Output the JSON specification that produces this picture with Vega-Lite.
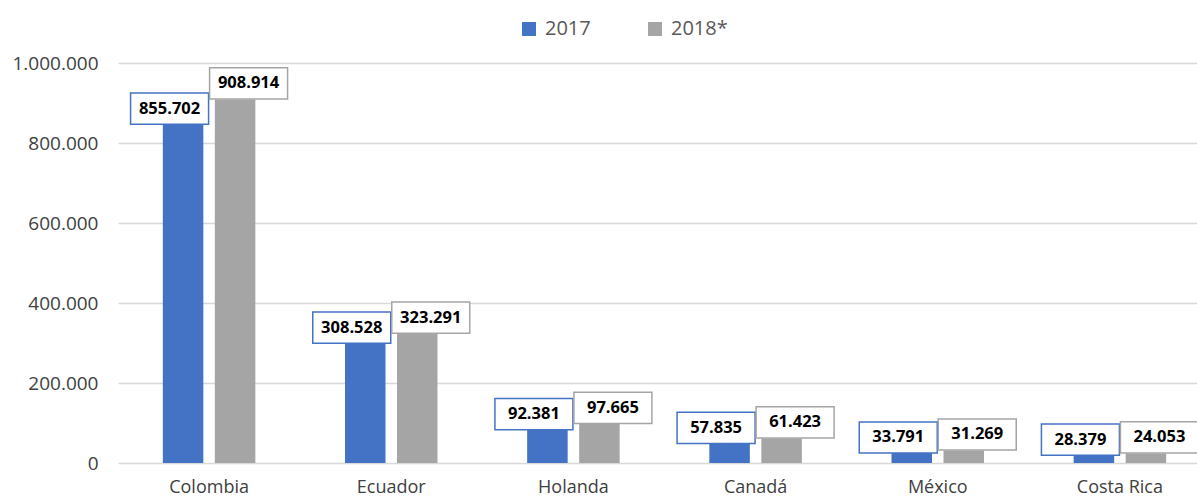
{
  "$schema": "https://vega.github.io/schema/vega-lite/v6.json",
  "width": 1079,
  "height": 400,
  "autosize": {"type": "none"},
  "padding": {"left": 118, "top": 63, "right": 0, "bottom": 36},
  "background": "white",
  "config": {
    "view": {"stroke": null},
    "locale": {"number": {"decimal": ",", "thousands": ".", "grouping": [3], "currency": ["$", ""]}},
    "font": "Open Sans"
  },
  "data": {
    "values": [
      {"pais": "Colombia", "anio": "2017", "valor": 855702},
      {"pais": "Colombia", "anio": "2018*", "valor": 908914},
      {"pais": "Ecuador", "anio": "2017", "valor": 308528},
      {"pais": "Ecuador", "anio": "2018*", "valor": 323291},
      {"pais": "Holanda", "anio": "2017", "valor": 92381},
      {"pais": "Holanda", "anio": "2018*", "valor": 97665},
      {"pais": "Canadá", "anio": "2017", "valor": 57835},
      {"pais": "Canadá", "anio": "2018*", "valor": 61423},
      {"pais": "México", "anio": "2017", "valor": 33791},
      {"pais": "México", "anio": "2018*", "valor": 31269},
      {"pais": "Costa Rica", "anio": "2017", "valor": 28379},
      {"pais": "Costa Rica", "anio": "2018*", "valor": 24053}
    ]
  },
  "encoding": {
    "x": {
      "field": "pais", "type": "nominal", "sort": null, "title": null,
      "scale": {"range": [0, 1093], "paddingInner": 0, "paddingOuter": 0},
      "axis": {"labelAngle": 0, "ticks": false, "domain": false, "labelFont": "Open Sans", "labelFontSize": 18, "labelColor": "#404040", "labelPadding": 15, "grid": false}
    },
    "y": {
      "field": "valor", "type": "quantitative", "title": null,
      "scale": {"domain": [0, 1000000], "nice": false},
      "axis": {"values": [0, 200000, 400000, 600000, 800000, 1000000], "format": ",d", "ticks": false, "domain": false, "grid": true, "gridColor": "#d9d9d9", "gridWidth": 1.3, "labelFont": "Open Sans", "labelFontSize": 19, "labelColor": "#404040", "labelPadding": 20}
    }
  },
  "layer": [
    {
      "mark": {"type": "bar"},
      "encoding": {
        "xOffset": {"field": "anio", "type": "nominal", "scale": {"domain": ["2017", "2018*"], "paddingInner": 0.221, "paddingOuter": 0.862}},
        "color": {
          "field": "anio", "type": "nominal",
          "scale": {"domain": ["2017", "2018*"], "range": ["#4472C4", "#A5A5A5"]},
          "legend": {
            "title": null, "orient": "none", "direction": "horizontal",
            "legendX": 401, "legendY": -44, "padding": 0,
            "symbolType": "square", "symbolSize": 196, "symbolStrokeWidth": 0,
            "labelFont": "Open Sans", "labelFontSize": 20, "labelColor": "#595959",
            "labelOffset": 6, "columnPadding": 54
          }
        }
      }
    },
    {
      "transform": [{"filter": "datum.anio === '2017'"}],
      "mark": {"type": "point", "shape": "M-1,-0.4L1,-0.4L1,0.4L-1,0.4Z", "size": 6084, "filled": true, "fill": "white", "fillOpacity": 1, "stroke": "#4472C4", "strokeWidth": 1.5, "opacity": 1, "xOffset": -39.5, "yOffset": -12}
    },
    {
      "transform": [{"filter": "datum.anio === '2018*'"}],
      "mark": {"type": "point", "shape": "M-1,-0.4L1,-0.4L1,0.4L-1,0.4Z", "size": 6084, "filled": true, "fill": "white", "fillOpacity": 1, "stroke": "#A5A5A5", "strokeWidth": 1.5, "opacity": 1, "xOffset": 39.5, "yOffset": -16}
    },
    {
      "transform": [{"filter": "datum.anio === '2017'"}],
      "mark": {"type": "text", "font": "Open Sans", "fontWeight": "bold", "fontSize": 16.5, "color": "#000000", "baseline": "middle", "align": "center", "dx": -39.5, "dy": -12},
      "encoding": {
        "text": {"field": "valor", "type": "quantitative", "format": ",d"}
      }
    },
    {
      "transform": [{"filter": "datum.anio === '2018*'"}],
      "mark": {"type": "text", "font": "Open Sans", "fontWeight": "bold", "fontSize": 16.5, "color": "#000000", "baseline": "middle", "align": "center", "dx": 39.5, "dy": -16},
      "encoding": {
        "text": {"field": "valor", "type": "quantitative", "format": ",d"}
      }
    }
  ]
}
